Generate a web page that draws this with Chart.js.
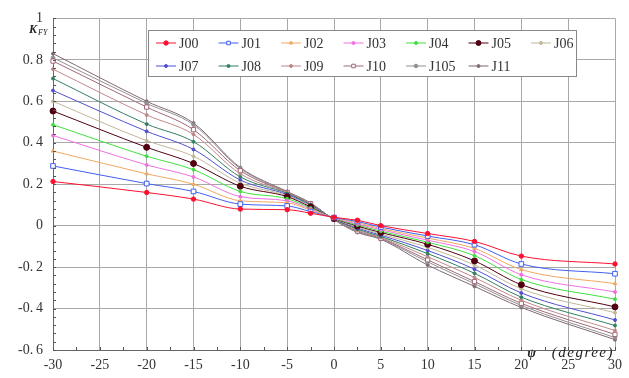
<!DOCTYPE html>
<html>
<head>
<meta charset="utf-8">
<script src="https://cdn.jsdelivr.net/npm/chart.js@4.4.0/dist/chart.umd.min.js"></script>
<style>
  html, body { margin: 0; padding: 0; background: #fff; }
  #wrap { width: 629px; height: 378px; position: relative; }
</style>
</head>
<body>
<div id="wrap"><canvas id="myChart" width="629" height="378"></canvas></div>
<script>
const psi = [-30, -20, -15, -10, -5, -2.5, 0, 2.5, 5, 10, 15, 20, 30]
const xTicks = [-30, -25, -20, -15, -10, -5, 0, 5, 10, 15, 20, 25, 30]
const yTicks = [-0.6, -0.4, -0.2, 0, 0.2, 0.4, 0.6, 0.8, 1]

const J00 = [0.213, 0.160, 0.128, 0.080, 0.077, 0.060, 0.040, 0.026, 0.000, -0.038, -0.076, -0.147, -0.185]
const J01 = [0.288, 0.203, 0.165, 0.104, 0.095, 0.068, 0.039, 0.020, -0.007, -0.050, -0.092, -0.185, -0.232]
const J02 = [0.360, 0.250, 0.200, 0.120, 0.110, 0.075, 0.038, 0.014, -0.014, -0.060, -0.110, -0.212, -0.280]
const J03 = [0.435, 0.293, 0.235, 0.140, 0.120, 0.080, 0.037, 0.008, -0.020, -0.070, -0.125, -0.237, -0.320]
const J04 = [0.487, 0.335, 0.270, 0.165, 0.130, 0.085, 0.036, 0.003, -0.027, -0.080, -0.145, -0.260, -0.355]
const J05 = [0.553, 0.378, 0.300, 0.190, 0.140, 0.090, 0.035, -0.002, -0.033, -0.090, -0.170, -0.285, -0.392]
const J06 = [0.600, 0.410, 0.335, 0.205, 0.145, 0.094, 0.034, -0.007, -0.040, -0.105, -0.190, -0.305, -0.420]
const J07 = [0.652, 0.455, 0.368, 0.220, 0.150, 0.098, 0.033, -0.012, -0.046, -0.120, -0.210, -0.325, -0.455]
const J08 = [0.710, 0.490, 0.405, 0.235, 0.155, 0.101, 0.032, -0.017, -0.052, -0.135, -0.230, -0.345, -0.482]
const J09 = [0.755, 0.534, 0.440, 0.250, 0.158, 0.104, 0.031, -0.022, -0.057, -0.150, -0.250, -0.360, -0.506]
const J10 = [0.794, 0.572, 0.463, 0.265, 0.160, 0.106, 0.030, -0.026, -0.061, -0.165, -0.270, -0.375, -0.525]
const J105 = [0.810, 0.590, 0.487, 0.275, 0.162, 0.108, 0.029, -0.030, -0.064, -0.175, -0.280, -0.385, -0.540]
const J11 = [0.830, 0.600, 0.495, 0.280, 0.165, 0.110, 0.028, -0.033, -0.066, -0.190, -0.293, -0.395, -0.550]

const seriesNames = ['J00', 'J01', 'J02', 'J03', 'J04', 'J05', 'J06', 'J07', 'J08', 'J09', 'J10', 'J105', 'J11']
const seriesValues = [J00, J01, J02, J03, J04, J05, J06, J07, J08, J09, J10, J105, J11]

// look of each curve: colour, marker, marker size, hollow or not
const styles = [
    { c: '#ff1030', p: 'circle', r: 2.2, open: false },
    { c: '#4060f0', p: 'rect', r: 3.3, open: true },
    { c: '#f0a860', p: 'triangle', r: 2, open: false },
    { c: '#f070e0', p: 'circle', r: 1.5, open: false },
    { c: '#40e040', p: 'circle', r: 1.5, open: false },
    { c: '#500010', p: 'circle', r: 3, open: false },
    { c: '#c0b898', p: 'circle', r: 1.5, open: false },
    { c: '#5050d0', p: 'circle', r: 1.5, open: false },
    { c: '#308060', p: 'circle', r: 1.5, open: false },
    { c: '#c08888', p: 'circle', r: 1.5, open: false },
    { c: '#a06878', p: 'rect', r: 3, open: true },
    { c: '#909090', p: 'circle', r: 1.8, open: false },
    { c: '#806878', p: 'circle', r: 1.5, open: false },
]

const FONT = "'Liberation Serif', 'DejaVu Serif', serif"

const datasets = seriesNames.map((name, i) => ({
    label: name,
    data: psi.map((x, k) => ({ x: x, y: seriesValues[i][k] })),
    borderColor: styles[i].c,
    backgroundColor: styles[i].open ? '#ffffff' : styles[i].c,
    pointBorderColor: styles[i].c,
    pointStyle: styles[i].p,
    pointRadius: styles[i].r,
    pointBorderWidth: 1,
    borderWidth: 1,
    cubicInterpolationMode: 'monotone',
    clip: 6,
}))

function fmtY(v) {
    v = Math.round(v * 10) / 10
    if (Number.isInteger(v)) return String(v)
    const s = v < 0 ? '-' : ''
    return s + '0.\u2009' + Math.round(Math.abs(v) * 10)
}

// minor ticks, axis titles and the boxed legend inside the plot
const decor = {
    id: 'decor',
    afterDraw(chart) {
        const ctx = chart.ctx
        const a = chart.chartArea
        const xs = chart.scales.x
        const ys = chart.scales.y
        ctx.save()
        ctx.strokeStyle = '#555'
        ctx.lineWidth = 1
        ctx.beginPath()
        for (let v = -0.6; v <= 1.0001; v += 0.04) {
            const py = Math.round(ys.getPixelForValue(v)) + 0.5
            ctx.moveTo(a.left, py)
            ctx.lineTo(a.left + 3, py)
        }
        for (let v = -30; v <= 30; v += 2.5) {
            const px = Math.round(xs.getPixelForValue(v)) + 0.5
            ctx.moveTo(px, a.bottom)
            ctx.lineTo(px, a.bottom - 3)
        }
        ctx.stroke()

        // y title K_FY
        ctx.fillStyle = '#222'
        ctx.textBaseline = 'alphabetic'
        ctx.textAlign = 'left'
        ctx.font = "bold italic 12px " + FONT
        ctx.fillText('K', 29, 33)
        ctx.font = "italic 8px " + FONT
        ctx.fillText('FY', 38, 35)

        // x title
        ctx.font = "italic 15px " + FONT
        ctx.textAlign = 'right'
        ctx.letterSpacing = '1.5px'
        ctx.fillText('(degree)', 614, 357)
        ctx.letterSpacing = '0px'
        ctx.font = "bold italic 13px " + FONT
        ctx.fillText('\u03c8', 536, 357)

        // legend box
        const bx = 148, by = 30, bw = 428, bh = 46
        ctx.fillStyle = '#fff'
        ctx.fillRect(bx, by, bw, bh)
        ctx.strokeStyle = '#888'
        ctx.strokeRect(bx + 0.5, by + 0.5, bw, bh)
        ctx.font = "14px " + FONT
        ctx.textAlign = 'left'
        ctx.textBaseline = 'middle'
        chart.data.datasets.forEach((ds, i) => {
            const col = i % 7
            const row = Math.floor(i / 7)
            const lx = 156 + col * 62.5
            const ly = by + 13 + row * 23
            const st = styles[i]
            ctx.strokeStyle = st.c
            ctx.beginPath()
            ctx.moveTo(lx, ly)
            ctx.lineTo(lx + 20, ly)
            ctx.stroke()
            ctx.fillStyle = st.open ? '#fff' : st.c
            Chart.helpers.drawPoint(ctx, { pointStyle: st.p, radius: Math.min(st.r, 2.5), borderWidth: 1, rotation: 0 }, lx + 10, ly)
            ctx.fillStyle = '#333'
            ctx.fillText(ds.label, lx + 23, ly + 1)
        })
        ctx.restore()
    }
}

const config = {
    type: 'line',
    data: { datasets: datasets },
    options: {
        responsive: false,
        animation: false,
        devicePixelRatio: 1,
        layout: { padding: { top: 12, right: 10, left: 0, bottom: 0 } },
        plugins: {
            legend: { display: false },
            tooltip: { enabled: false },
        },
        scales: {
            x: {
                type: 'linear',
                min: -30,
                max: 30,
                afterBuildTicks: (s) => { s.ticks = xTicks.map(v => ({ value: v })) },
                afterFit: (s) => { s.height = 28 },
                grid: { color: '#a8a8a8', drawTicks: false },
                border: { color: '#666' },
                ticks: { padding: 7, color: '#333', font: { family: FONT, size: 14 } },
            },
            y: {
                type: 'linear',
                min: -0.6,
                max: 1,
                afterBuildTicks: (s) => { s.ticks = yTicks.map(v => ({ value: v })) },
                afterFit: (s) => { s.width = 53 },
                grid: { color: '#a8a8a8', drawTicks: false },
                border: { color: '#666' },
                ticks: { padding: 10, color: '#333', font: { family: FONT, size: 14 }, callback: (v) => fmtY(v) },
            },
        },
    },
    plugins: [decor],
}

new Chart(document.getElementById('myChart'), config)
</script>
</body>
</html>
